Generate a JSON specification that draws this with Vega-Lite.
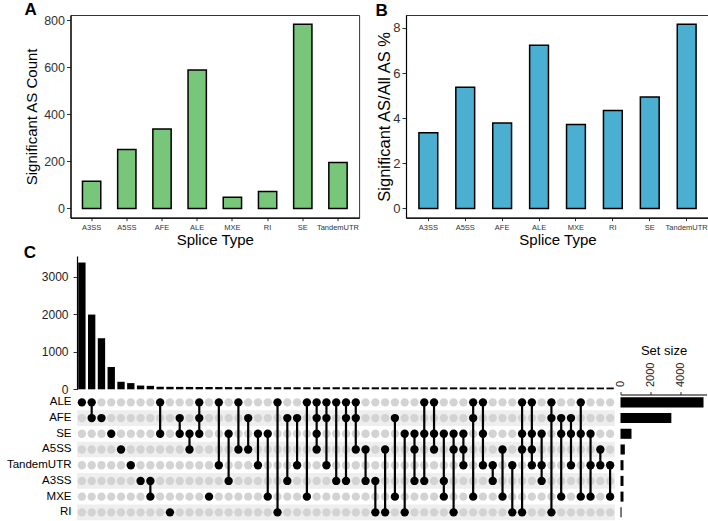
{
 "$schema": "https://vega.github.io/schema/vega-lite/v6.json",
 "padding": {"left": 5.5, "top": 0, "right": 0, "bottom": 0},
 "config": {
  "font": "Liberation Sans",
  "view": {"stroke": "#333333", "strokeWidth": 1},
  "axis": {"grid": false, "domainColor": "#000000", "domainWidth": 1.2, "tickColor": "#333333", "labelColor": "#333333", "titleColor": "#000000", "titleFontWeight": "normal", "labelFont": "Liberation Sans", "titleFont": "Liberation Sans"},
  "title": {"font": "Liberation Sans", "fontWeight": "bold", "fontSize": 17, "anchor": "start", "color": "#000000", "baseline": "alphabetic"}
 },
 "datasets": {
  "typeA": [
   {"type": "A3SS", "count": 116}, {"type": "A5SS", "count": 251}, {"type": "AFE", "count": 338}, {"type": "ALE", "count": 589},
   {"type": "MXE", "count": 48}, {"type": "RI", "count": 72}, {"type": "SE", "count": 783}, {"type": "TandemUTR", "count": 195}
  ],
  "typeB": [
   {"type": "A3SS", "pct": 3.35}, {"type": "A5SS", "pct": 5.37}, {"type": "AFE", "pct": 3.79}, {"type": "ALE", "pct": 7.23},
   {"type": "MXE", "pct": 3.72}, {"type": "RI", "pct": 4.34}, {"type": "SE", "pct": 4.94}, {"type": "TandemUTR", "pct": 8.16}
  ],
  "sets": [
   {"set": "ALE", "shade": 0}, {"set": "AFE", "shade": 1}, {"set": "SE", "shade": 0}, {"set": "A5SS", "shade": 1},
   {"set": "TandemUTR", "shade": 0}, {"set": "A3SS", "shade": 1}, {"set": "MXE", "shade": 0}, {"set": "RI", "shade": 1}
  ],
  "sizes": [
   {"set": "ALE", "size": 5550}, {"set": "AFE", "size": 3400}, {"set": "SE", "size": 735}, {"set": "A5SS", "size": 290},
   {"set": "TandemUTR", "size": 200}, {"set": "A3SS", "size": 200}, {"set": "MXE", "size": 200}, {"set": "RI", "size": 70}
  ],
  "inter": [
   {"id": 1, "n": 3376, "ALE": 1, "AFE": 0, "SE": 0, "A5SS": 0, "TandemUTR": 0, "A3SS": 0, "MXE": 0, "RI": 0},
   {"id": 2, "n": 1990, "ALE": 1, "AFE": 1, "SE": 0, "A5SS": 0, "TandemUTR": 0, "A3SS": 0, "MXE": 0, "RI": 0},
   {"id": 3, "n": 1360, "ALE": 0, "AFE": 1, "SE": 0, "A5SS": 0, "TandemUTR": 0, "A3SS": 0, "MXE": 0, "RI": 0},
   {"id": 4, "n": 595, "ALE": 0, "AFE": 0, "SE": 1, "A5SS": 0, "TandemUTR": 0, "A3SS": 0, "MXE": 0, "RI": 0},
   {"id": 5, "n": 200, "ALE": 0, "AFE": 0, "SE": 0, "A5SS": 1, "TandemUTR": 0, "A3SS": 0, "MXE": 0, "RI": 0},
   {"id": 6, "n": 165, "ALE": 0, "AFE": 0, "SE": 0, "A5SS": 0, "TandemUTR": 1, "A3SS": 0, "MXE": 0, "RI": 0},
   {"id": 7, "n": 100, "ALE": 0, "AFE": 0, "SE": 0, "A5SS": 0, "TandemUTR": 0, "A3SS": 1, "MXE": 0, "RI": 0},
   {"id": 8, "n": 92, "ALE": 0, "AFE": 0, "SE": 0, "A5SS": 0, "TandemUTR": 0, "A3SS": 1, "MXE": 1, "RI": 0},
   {"id": 9, "n": 68, "ALE": 1, "AFE": 0, "SE": 1, "A5SS": 0, "TandemUTR": 0, "A3SS": 0, "MXE": 0, "RI": 0},
   {"id": 10, "n": 66, "ALE": 0, "AFE": 0, "SE": 0, "A5SS": 0, "TandemUTR": 0, "A3SS": 0, "MXE": 0, "RI": 1},
   {"id": 11, "n": 64, "ALE": 0, "AFE": 1, "SE": 1, "A5SS": 0, "TandemUTR": 0, "A3SS": 0, "MXE": 0, "RI": 0},
   {"id": 12, "n": 63, "ALE": 0, "AFE": 0, "SE": 1, "A5SS": 1, "TandemUTR": 0, "A3SS": 0, "MXE": 0, "RI": 0},
   {"id": 13, "n": 62, "ALE": 1, "AFE": 1, "SE": 1, "A5SS": 0, "TandemUTR": 0, "A3SS": 0, "MXE": 0, "RI": 0},
   {"id": 14, "n": 61, "ALE": 0, "AFE": 0, "SE": 0, "A5SS": 0, "TandemUTR": 0, "A3SS": 0, "MXE": 1, "RI": 0},
   {"id": 15, "n": 60, "ALE": 1, "AFE": 0, "SE": 0, "A5SS": 0, "TandemUTR": 1, "A3SS": 0, "MXE": 0, "RI": 0},
   {"id": 16, "n": 59, "ALE": 0, "AFE": 0, "SE": 1, "A5SS": 0, "TandemUTR": 0, "A3SS": 1, "MXE": 0, "RI": 0},
   {"id": 17, "n": 58, "ALE": 1, "AFE": 0, "SE": 0, "A5SS": 1, "TandemUTR": 0, "A3SS": 0, "MXE": 0, "RI": 0},
   {"id": 18, "n": 58, "ALE": 0, "AFE": 1, "SE": 0, "A5SS": 1, "TandemUTR": 0, "A3SS": 0, "MXE": 0, "RI": 0},
   {"id": 19, "n": 57, "ALE": 0, "AFE": 0, "SE": 1, "A5SS": 0, "TandemUTR": 1, "A3SS": 0, "MXE": 0, "RI": 0},
   {"id": 20, "n": 57, "ALE": 0, "AFE": 0, "SE": 1, "A5SS": 0, "TandemUTR": 0, "A3SS": 0, "MXE": 1, "RI": 0},
   {"id": 21, "n": 56, "ALE": 1, "AFE": 0, "SE": 0, "A5SS": 0, "TandemUTR": 0, "A3SS": 0, "MXE": 0, "RI": 1},
   {"id": 22, "n": 56, "ALE": 0, "AFE": 1, "SE": 0, "A5SS": 0, "TandemUTR": 0, "A3SS": 1, "MXE": 0, "RI": 0},
   {"id": 23, "n": 55, "ALE": 0, "AFE": 1, "SE": 0, "A5SS": 0, "TandemUTR": 1, "A3SS": 0, "MXE": 0, "RI": 0},
   {"id": 24, "n": 55, "ALE": 1, "AFE": 0, "SE": 0, "A5SS": 0, "TandemUTR": 0, "A3SS": 0, "MXE": 1, "RI": 0},
   {"id": 25, "n": 55, "ALE": 1, "AFE": 1, "SE": 1, "A5SS": 1, "TandemUTR": 0, "A3SS": 0, "MXE": 0, "RI": 0},
   {"id": 26, "n": 54, "ALE": 1, "AFE": 1, "SE": 0, "A5SS": 0, "TandemUTR": 1, "A3SS": 0, "MXE": 0, "RI": 0},
   {"id": 27, "n": 54, "ALE": 1, "AFE": 0, "SE": 0, "A5SS": 0, "TandemUTR": 0, "A3SS": 1, "MXE": 0, "RI": 0},
   {"id": 28, "n": 54, "ALE": 1, "AFE": 1, "SE": 0, "A5SS": 0, "TandemUTR": 0, "A3SS": 1, "MXE": 0, "RI": 0},
   {"id": 29, "n": 53, "ALE": 1, "AFE": 1, "SE": 0, "A5SS": 1, "TandemUTR": 0, "A3SS": 0, "MXE": 0, "RI": 0},
   {"id": 30, "n": 53, "ALE": 0, "AFE": 0, "SE": 0, "A5SS": 1, "TandemUTR": 0, "A3SS": 1, "MXE": 0, "RI": 0},
   {"id": 31, "n": 53, "ALE": 0, "AFE": 0, "SE": 0, "A5SS": 0, "TandemUTR": 0, "A3SS": 1, "MXE": 0, "RI": 1},
   {"id": 32, "n": 52, "ALE": 0, "AFE": 0, "SE": 0, "A5SS": 1, "TandemUTR": 0, "A3SS": 0, "MXE": 0, "RI": 1},
   {"id": 33, "n": 52, "ALE": 0, "AFE": 1, "SE": 0, "A5SS": 0, "TandemUTR": 0, "A3SS": 0, "MXE": 1, "RI": 0},
   {"id": 34, "n": 52, "ALE": 0, "AFE": 0, "SE": 1, "A5SS": 0, "TandemUTR": 0, "A3SS": 0, "MXE": 0, "RI": 1},
   {"id": 35, "n": 52, "ALE": 0, "AFE": 0, "SE": 1, "A5SS": 1, "TandemUTR": 0, "A3SS": 1, "MXE": 0, "RI": 0},
   {"id": 36, "n": 51, "ALE": 1, "AFE": 0, "SE": 1, "A5SS": 0, "TandemUTR": 0, "A3SS": 1, "MXE": 0, "RI": 0},
   {"id": 37, "n": 51, "ALE": 1, "AFE": 0, "SE": 1, "A5SS": 1, "TandemUTR": 0, "A3SS": 0, "MXE": 0, "RI": 0},
   {"id": 38, "n": 51, "ALE": 0, "AFE": 0, "SE": 1, "A5SS": 0, "TandemUTR": 0, "A3SS": 1, "MXE": 1, "RI": 0},
   {"id": 39, "n": 51, "ALE": 0, "AFE": 0, "SE": 1, "A5SS": 1, "TandemUTR": 0, "A3SS": 0, "MXE": 0, "RI": 1},
   {"id": 40, "n": 50, "ALE": 0, "AFE": 0, "SE": 1, "A5SS": 1, "TandemUTR": 1, "A3SS": 0, "MXE": 0, "RI": 0},
   {"id": 41, "n": 50, "ALE": 1, "AFE": 1, "SE": 0, "A5SS": 0, "TandemUTR": 0, "A3SS": 0, "MXE": 1, "RI": 0},
   {"id": 42, "n": 50, "ALE": 1, "AFE": 0, "SE": 1, "A5SS": 0, "TandemUTR": 1, "A3SS": 0, "MXE": 0, "RI": 0},
   {"id": 43, "n": 50, "ALE": 0, "AFE": 0, "SE": 0, "A5SS": 0, "TandemUTR": 1, "A3SS": 1, "MXE": 0, "RI": 0},
   {"id": 44, "n": 49, "ALE": 0, "AFE": 0, "SE": 0, "A5SS": 1, "TandemUTR": 0, "A3SS": 0, "MXE": 1, "RI": 0},
   {"id": 45, "n": 49, "ALE": 0, "AFE": 0, "SE": 0, "A5SS": 0, "TandemUTR": 1, "A3SS": 0, "MXE": 0, "RI": 1},
   {"id": 46, "n": 49, "ALE": 1, "AFE": 0, "SE": 1, "A5SS": 1, "TandemUTR": 0, "A3SS": 0, "MXE": 0, "RI": 1},
   {"id": 47, "n": 49, "ALE": 1, "AFE": 0, "SE": 1, "A5SS": 1, "TandemUTR": 1, "A3SS": 0, "MXE": 0, "RI": 0},
   {"id": 48, "n": 48, "ALE": 0, "AFE": 0, "SE": 1, "A5SS": 0, "TandemUTR": 1, "A3SS": 1, "MXE": 0, "RI": 0},
   {"id": 49, "n": 48, "ALE": 1, "AFE": 1, "SE": 0, "A5SS": 0, "TandemUTR": 0, "A3SS": 0, "MXE": 0, "RI": 1},
   {"id": 50, "n": 48, "ALE": 0, "AFE": 1, "SE": 1, "A5SS": 0, "TandemUTR": 0, "A3SS": 0, "MXE": 1, "RI": 0},
   {"id": 51, "n": 48, "ALE": 0, "AFE": 1, "SE": 1, "A5SS": 0, "TandemUTR": 1, "A3SS": 0, "MXE": 0, "RI": 0},
   {"id": 52, "n": 47, "ALE": 1, "AFE": 0, "SE": 1, "A5SS": 0, "TandemUTR": 0, "A3SS": 0, "MXE": 1, "RI": 0},
   {"id": 53, "n": 47, "ALE": 0, "AFE": 0, "SE": 1, "A5SS": 0, "TandemUTR": 1, "A3SS": 0, "MXE": 1, "RI": 0},
   {"id": 54, "n": 47, "ALE": 0, "AFE": 0, "SE": 0, "A5SS": 1, "TandemUTR": 1, "A3SS": 0, "MXE": 0, "RI": 0},
   {"id": 55, "n": 47, "ALE": 0, "AFE": 0, "SE": 0, "A5SS": 0, "TandemUTR": 1, "A3SS": 0, "MXE": 1, "RI": 0}
  ]
 },
 "concat": [
  {
   "hconcat": [
    {
     "width": 288.6, "height": 202.7,
     "title": {"text": "A", "dx": 0.5, "offset": -4.75},
     "data": {"name": "typeA"},
     "mark": {"type": "bar", "fill": "#78c679", "stroke": "#000000", "strokeWidth": 1.5},
     "encoding": {
      "x": {"field": "type", "type": "nominal", "sort": null, "scale": {"paddingInner": 0.48, "paddingOuter": 0.34},
            "axis": {"labelAngle": 0, "labelFontSize": 7.5, "tickSize": 3, "labelPadding": 3, "title": "Splice Type", "titleFontSize": 15, "titlePadding": 1}},
      "y": {"field": "count", "type": "quantitative", "scale": {"domain": [-39.2, 822.2], "nice": false, "zero": false},
            "axis": {"values": [0, 200, 400, 600, 800], "labelFontSize": 12.5, "tickSize": 4, "labelPadding": 2, "title": "Significant AS Count", "titleFontSize": 15, "titlePadding": 6.5, "minExtent": 25, "maxExtent": 25}},
      "y2": {"datum": 0}
     }
    },
    {
     "width": 303, "height": 202.7,
     "title": {"text": "B", "dx": -1.3, "offset": -4.5},
     "data": {"name": "typeB"},
     "mark": {"type": "bar", "fill": "#4aafd0", "stroke": "#000000", "strokeWidth": 1.5},
     "encoding": {
      "x": {"field": "type", "type": "nominal", "sort": null, "scale": {"paddingInner": 0.49, "paddingOuter": 0.35},
            "axis": {"labelAngle": 0, "labelFontSize": 7.5, "tickSize": 3, "labelPadding": 3, "title": "Splice Type", "titleFontSize": 15, "titlePadding": 1}},
      "y": {"field": "pct", "type": "quantitative", "scale": {"domain": [-0.408, 8.57], "nice": false, "zero": false},
            "axis": {"values": [0, 2, 4, 6, 8], "labelFontSize": 13, "tickSize": 4, "labelPadding": 2, "title": "Significant AS/All AS %", "titleFontSize": 16.5, "titlePadding": 2.2, "minExtent": 11, "maxExtent": 11}},
      "y2": {"datum": 0}
     }
    }
   ],
   "spacing": 14.5
  },
  {
   "concat": [
    {"width": 0.5, "height": 1, "view": {"stroke": null}, "data": {"values": [{}]}, "mark": {"type": "text", "text": ""}, "encoding": {}},
    {
     "width": 538, "height": 133.3,
     "view": {"stroke": null},
     "title": {"text": "C", "dx": -17.6, "offset": -5.5},
     "data": {"name": "inter"},
     "mark": {"type": "bar", "color": "#000000"},
     "encoding": {
      "x": {"field": "id", "type": "ordinal", "scale": {"paddingInner": 0.25, "paddingOuter": 0.125}, "axis": null},
      "y": {"field": "n", "type": "quantitative", "scale": {"domain": [0, 3550], "nice": false},
            "axis": {"values": [0, 1000, 2000, 3000], "format": "d", "title": null, "labelFontSize": 12, "tickSize": 4, "labelPadding": 5, "labelColor": "#222222"}}
     }
    },
    {"width": 86, "height": 1, "view": {"stroke": null}, "data": {"values": [{}]}, "mark": {"type": "text", "text": ""}, "encoding": {}},
    {"width": 0.5, "height": 1, "view": {"stroke": null}, "data": {"values": [{}]}, "mark": {"type": "text", "text": ""}, "encoding": {}},
    {
     "width": 538, "height": 125.7,
     "view": {"stroke": null},
     "layer": [
      {
       "data": {"name": "sets"},
       "transform": [{"filter": "datum.shade == 1"}],
       "mark": {"type": "rect", "color": "#eeeeee"},
       "encoding": {
        "y": {"field": "set", "type": "nominal", "scale": {"type": "band", "domain": ["ALE", "AFE", "SE", "A5SS", "TandemUTR", "A3SS", "MXE", "RI"], "paddingInner": 0, "paddingOuter": 0},
              "axis": {"title": null, "ticks": false, "domain": false, "labelPadding": 6, "labelFontSize": 11.5, "labelColor": "#000000"}}
       }
      },
      {
       "data": {"name": "inter"},
       "transform": [{"fold": ["ALE", "AFE", "SE", "A5SS", "TandemUTR", "A3SS", "MXE", "RI"], "as": ["set", "member"]}, {"filter": "datum.member == 0"}],
       "mark": {"type": "circle", "size": 70, "opacity": 1, "color": "#d3d3d3"},
       "encoding": {
        "x": {"field": "id", "type": "ordinal", "axis": null},
        "y": {"field": "set", "type": "nominal", "scale": {"type": "band", "domain": ["ALE", "AFE", "SE", "A5SS", "TandemUTR", "A3SS", "MXE", "RI"], "paddingInner": 0, "paddingOuter": 0}}
       }
      },
      {
       "data": {"name": "inter"},
       "transform": [{"fold": ["ALE", "AFE", "SE", "A5SS", "TandemUTR", "A3SS", "MXE", "RI"], "as": ["set", "member"]}, {"filter": "datum.member == 1"}],
       "mark": {"type": "line", "color": "#000000", "strokeWidth": 2.2},
       "encoding": {
        "x": {"field": "id", "type": "ordinal", "axis": null},
        "y": {"field": "set", "type": "nominal", "scale": {"type": "band", "domain": ["ALE", "AFE", "SE", "A5SS", "TandemUTR", "A3SS", "MXE", "RI"], "paddingInner": 0, "paddingOuter": 0}},
        "detail": {"field": "id", "type": "nominal"}
       }
      },
      {
       "data": {"name": "inter"},
       "transform": [{"fold": ["ALE", "AFE", "SE", "A5SS", "TandemUTR", "A3SS", "MXE", "RI"], "as": ["set", "member"]}, {"filter": "datum.member == 1"}],
       "mark": {"type": "circle", "size": 70, "opacity": 1, "color": "#000000"},
       "encoding": {
        "x": {"field": "id", "type": "ordinal", "axis": null},
        "y": {"field": "set", "type": "nominal", "scale": {"type": "band", "domain": ["ALE", "AFE", "SE", "A5SS", "TandemUTR", "A3SS", "MXE", "RI"], "paddingInner": 0, "paddingOuter": 0}}
       }
      }
     ]
    },
    {
     "width": 86, "height": 125.7,
     "view": {"stroke": null},
     "data": {"name": "sizes"},
     "mark": {"type": "bar", "color": "#000000"},
     "encoding": {
      "y": {"field": "set", "type": "nominal", "scale": {"domain": ["ALE", "AFE", "SE", "A5SS", "TandemUTR", "A3SS", "MXE", "RI"], "paddingInner": 0.36, "paddingOuter": 0.18}, "axis": null},
      "x": {"field": "size", "type": "quantitative", "scale": {"domain": [0, 5750], "nice": false},
            "axis": {"orient": "top", "values": [0, 2000, 4000], "format": "d", "labelAngle": -90, "labelFontSize": 11, "tickSize": 3, "labelPadding": 5, "title": "Set size", "titleFontSize": 13, "titlePadding": 5, "labelColor": "#222222"}}
     }
    }
   ],
   "columns": 3,
   "align": "each",
   "bounds": "flush",
   "spacing": {"row": 4.5, "column": 5.5}
  }
 ],
 "columns": 1,
 "spacing": -5
}
